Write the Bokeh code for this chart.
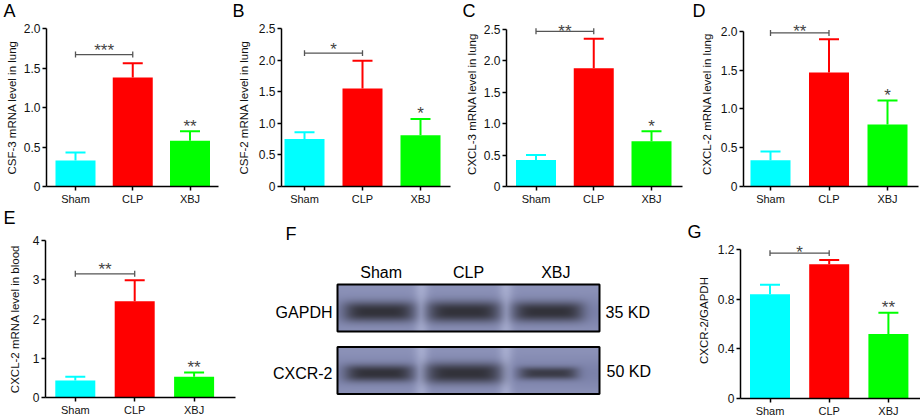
import numpy as np
from bokeh.plotting import figure
from bokeh.layouts import row, column
from bokeh.models import Range1d, FixedTicker
from bokeh.core.properties import value
from bokeh.embed import file_html
from bokeh.resources import INLINE

FONT = "Liberation Sans"

# ---------------- data ----------------
categories = ["Sham", "CLP", "XBJ"]
bar_colors = ["#00FFFF", "#FF0000", "#00FF00"]

a_mean = [0.33, 1.38, 0.58]
a_sem = [0.10, 0.18, 0.12]
a_ticks = [0, 0.5, 1.0, 1.5, 2.0]
a_tick_labels = ["0", "0.5", "1.0", "1.5", "2.0"]
a_ylabel = "CSF-3 mRNA level in lung"
a_stars = ["***", "**"]
a_bracket = 1.67

b_mean = [0.75, 1.55, 0.81]
b_sem = [0.11, 0.44, 0.26]
b_ticks = [0, 0.5, 1.0, 1.5, 2.0, 2.5]
b_tick_labels = ["0", "0.5", "1.0", "1.5", "2.0", "2.5"]
b_ylabel = "CSF-2 mRNA level in lung"
b_stars = ["*", "*"]
b_bracket = 2.11

c_mean = [0.42, 1.88, 0.72]
c_sem = [0.08, 0.47, 0.16]
c_ticks = [0, 0.5, 1.0, 1.5, 2.0, 2.5]
c_tick_labels = ["0", "0.5", "1.0", "1.5", "2.0", "2.5"]
c_ylabel = "CXCL-3 mRNA level in lung"
c_stars = ["**", "*"]
c_bracket = 2.47

d_mean = [0.34, 1.47, 0.80]
d_sem = [0.11, 0.43, 0.31]
d_ticks = [0, 0.5, 1.0, 1.5, 2.0]
d_tick_labels = ["0", "0.5", "1.0", "1.5", "2.0"]
d_ylabel = "CXCL-2 mRNA level in lung"
d_stars = ["**", "*"]
d_bracket = 1.98

e_mean = [0.43, 2.45, 0.53]
e_sem = [0.10, 0.54, 0.11]
e_ticks = [0, 1, 2, 3, 4]
e_tick_labels = ["0", "1", "2", "3", "4"]
e_ylabel = "CXCL-2 mRNA level in blood"
e_stars = ["**", "**"]
e_bracket = 3.15

g_mean = [0.84, 1.08, 0.52]
g_sem = [0.075, 0.035, 0.17]
g_ticks = [0, 0.4, 0.8, 1.2]
g_tick_labels = ["0", "0.4", "0.8", "1.2"]
g_ylabel = "CXCR-2/GAPDH"
g_stars = ["*", "**"]
g_bracket = 1.17

blot_rows = ["GAPDH", "CXCR-2"]
blot_sizes = ["35 KD", "50 KD"]
gapdh_band = [1.0, 1.05, 1.0]      # relative band density
cxcr2_band = [0.95, 1.15, 0.72]

panel_letters = ["A", "B", "C", "D", "E", "F", "G"]

# ---------------- layout (page px) ----------------
STRIP_H = 21
TOP_H = 207
BOT_H = 212
E_TOP = 232
G_TOP = 242

# fig=(x0, y0, w, h); frame=(left, top, right, bottom); ytop = pixel of the top tick
geoms = {
    "A": dict(fig=(0, STRIP_H, 230, TOP_H - STRIP_H), frame=(46, 28, 218, 188), ytop=28, c0=75.0, s=57.25, lstand=3),
    "B": dict(fig=(230, STRIP_H, 230, TOP_H - STRIP_H), frame=(281, 28, 450, 188), ytop=28, c0=304.0, s=58.0, lstand=6),
    "C": dict(fig=(460, STRIP_H, 230, TOP_H - STRIP_H), frame=(506, STRIP_H, 682, 188), ytop=29, c0=535.5, s=57.75, lstand=3),
    "D": dict(fig=(690, STRIP_H, 230, TOP_H - STRIP_H), frame=(743, STRIP_H, 918, 188), ytop=31, c0=770.0, s=58.5, lstand=5),
    "E": dict(fig=(0, E_TOP, 240, 419 - E_TOP), frame=(45, 240, 235, 397), ytop=240, c0=74.8, s=59.4, lstand=9),
    "G": dict(fig=(686, G_TOP, 234, 419 - G_TOP), frame=(740, G_TOP, 920, 400), ytop=249, c0=769.5, s=59.2, lstand=5),
}
letter_pos = {"A": (3, 4), "B": (232, 4), "C": (462, 4), "D": (692, 4),
              "E": (3, 211), "F": (285, 227), "G": (687, 225)}   # cap top-left
LETTER_PX = 18
CAP = 0.716 * LETTER_PX
STAR_PX = 17


def letter_text(p, letters):
    p.text(x=[letter_pos[l][0] for l in letters], y=[-(letter_pos[l][1] + CAP / 2) for l in letters],
           text=letters, text_align="left", text_baseline="middle",
           text_font=value(FONT), text_font_size=f"{LETTER_PX}px", text_color="black")


def strip(x0, y0, w, h, letters):
    p = figure(width=w, height=h, x_range=Range1d(x0, x0 + w), y_range=Range1d(-(y0 + h), -y0),
               output_backend="svg", toolbar_location=None, min_border=0,
               x_axis_location=None, y_axis_location=None)
    p.outline_line_color = None
    p.grid.visible = False
    letter_text(p, letters)
    return p


def bar_panel(mean, sem, ticks, tick_labels, ylabel, stars, bracket, g):
    x0, y0, w, h = g["fig"]
    fl, ft, fr, fb = g["frame"]
    c0, s = g["c0"], g["s"]
    ymax = ticks[-1]
    ux = 1.0 / s
    uy = ymax / float(fb - g["ytop"])
    xr = Range1d((fl - c0) / s, (fr - c0) / s)
    yr = Range1d(0, ymax + (g["ytop"] - ft) * uy)
    p = figure(width=w, height=h, x_range=xr, y_range=yr, output_backend="svg",
               toolbar_location=None, min_border_left=fl - x0, min_border_right=x0 + w - fr,
               min_border_top=ft - y0, min_border_bottom=y0 + h - fb)
    p.outline_line_color = None
    p.grid.visible = False
    p.background_fill_color = "white"
    p.border_fill_color = "white"

    idx = list(range(len(categories)))
    top = [m + e for m, e in zip(mean, sem)]
    p.vbar(x=idx, top=mean, bottom=0, width=40 * ux, fill_color=bar_colors, line_color=None)
    p.segment(x0=idx, y0=mean, x1=idx, y1=top, line_color=bar_colors, line_width=2)
    p.segment(x0=[i - 10 * ux for i in idx], y0=top, x1=[i + 10 * ux for i in idx], y1=top,
              line_color=bar_colors, line_width=2)

    grey = "#555555"
    p.segment(x0=[0], y0=[bracket], x1=[1], y1=[bracket], line_color=grey, line_width=1.3)
    p.segment(x0=[0, 1], y0=[bracket - 3 * uy] * 2, x1=[0, 1], y1=[bracket + 3 * uy] * 2,
              line_color=grey, line_width=1.3)
    # keep the whole text box of the stars inside the plot frame
    ymax_anchor = yr.end - (0.56 * STAR_PX + 0.6) * uy
    star_y = [min(bracket + 4 * uy, ymax_anchor), min(top[2] + 5 * uy, ymax_anchor)]
    p.text(x=[0.5, 2], y=star_y, text=stars,
           text_align="center", text_baseline="middle", text_font=value(FONT),
           text_font_size=f"{STAR_PX}px", text_color="#444444")

    ax = p.xaxis[0]
    ax.ticker = FixedTicker(ticks=idx)
    ax.major_label_overrides = {i: c for i, c in enumerate(categories)}
    ay = p.yaxis[0]
    ay.ticker = FixedTicker(ticks=ticks)
    ay.major_label_overrides = {t: l for t, l in zip(ticks, tick_labels)}
    ay.bounds = (0, ymax)
    for a in (ax, ay):
        a.axis_line_width = 1.5
        a.axis_line_color = "black"
        a.major_tick_line_width = 1.5
        a.major_tick_line_color = "black"
        a.major_tick_out = 4
        a.major_tick_in = 0
        a.minor_tick_line_color = None
        a.major_label_text_font = FONT
        a.major_label_text_color = "#111111"
        a.major_label_standoff = 2
    ax.major_label_text_font_size = "11px"
    ay.major_label_text_font_size = "12px"
    ay.axis_label = ylabel
    ay.axis_label_text_font = FONT
    ay.axis_label_text_font_size = "11.5px"
    ay.axis_label_text_font_style = "normal"
    ay.axis_label_text_color = "#111111"
    ay.axis_label_standoff = g["lstand"]
    return p


# ---------------- western blot panel F ----------------
BL_L, BL_R = 337.0, 599.0
BOX_G = (284.0, 331.0, 311.5, 9.5)     # top, bottom, band centre, band half-height
BOX_C = (346.5, 393.5, 373.0, 8.5)
BAND_X0, BAND_PITCH = 378.5, 84.5


def blot_rgba(density, top, bot, rc, hh0):
    W = int(round((BL_R - BL_L) * 2))
    H = int(round((bot - top) * 2))
    xs = BL_L + (np.arange(W) + 0.5) / 2.0
    ys = top + (np.arange(H) + 0.5) / 2.0
    X, Y = np.meshgrid(xs, ys)
    base = np.array([142.0, 148.0, 186.0])
    centers = [BAND_X0 + i * BAND_PITCH for i in range(len(density))]
    streak = np.zeros_like(X)
    for i in range(len(centers) - 1):
        xm = 0.5 * (centers[i] + centers[i + 1])
        streak += np.exp(-((X - xm) / 7.0) ** 2)
    halo = np.exp(-((Y - rc) / 16.0) ** 2)
    rgb = (base[None, None, :] + streak[..., None] * np.array([26.0, 26.0, 22.0])
           - halo[..., None] * np.array([18.0, 18.0, 16.0]))
    a = np.zeros_like(X)
    for c, d in zip(centers, density):
        hw = 35.0 * d ** 0.5
        hh = hh0 * d
        r = np.sqrt(np.abs((X - c) / hw) ** 6 + np.abs((Y - rc) / hh) ** 3)
        prof = np.exp(-r ** 1.6)
        a = np.maximum(a, min(1.0, 0.45 + 0.6 * d) * prof)
    band = np.array([50.0, 50.0, 58.0])
    rgb = rgb * (1 - a[..., None]) + band * a[..., None]
    rgb = np.clip(rgb, 0, 255).astype(np.uint8)
    img = np.empty((H, W), dtype=np.uint32)
    view = img.view(dtype=np.uint8).reshape((H, W, 4))
    view[..., :3] = rgb
    view[..., 3] = 255
    return np.ascontiguousarray(np.flipud(img))


def blot_panel():
    x0, y0, w, h = 240, TOP_H, 446, BOT_H
    p = figure(width=w, height=h, x_range=Range1d(x0, x0 + w), y_range=Range1d(-(y0 + h), -y0),
               output_backend="svg", toolbar_location=None, min_border=0,
               x_axis_location=None, y_axis_location=None)
    p.outline_line_color = None
    p.grid.visible = False
    for dens, (bt, bb, rc, hh) in ((gapdh_band, BOX_G), (cxcr2_band, BOX_C)):
        p.image_rgba(image=[blot_rgba(dens, bt, bb, rc, hh)], x=BL_L, y=-bb, dw=BL_R - BL_L, dh=bb - bt)
        p.quad(left=[BL_L], right=[BL_R], top=[-bt], bottom=[-bb], fill_color=None,
               line_color="black", line_width=2)
    lane_w = (BL_R - BL_L) / len(categories)
    p.text(x=[BL_L + (i + 0.5) * lane_w for i in range(len(categories))], y=[-271.5] * len(categories),
           text=categories, text_align="center", text_baseline="middle",
           text_font=value(FONT), text_font_size="16px", text_color="black")
    p.text(x=[BL_L - 5] * 2, y=[-BOX_G[2], -BOX_C[2]], text=blot_rows, text_align="right",
           text_baseline="middle", text_font=value(FONT), text_font_size="16px", text_color="black")
    p.text(x=[BL_R + 6, BL_R + 7], y=[-BOX_G[2], -(BOX_C[2] - 2)], text=blot_sizes, text_align="left",
           text_baseline="middle", text_font=value(FONT), text_font_size="16px", text_color="black")
    letter_text(p, ["F"])
    return p


pA = bar_panel(a_mean, a_sem, a_ticks, a_tick_labels, a_ylabel, a_stars, a_bracket, geoms["A"])
pB = bar_panel(b_mean, b_sem, b_ticks, b_tick_labels, b_ylabel, b_stars, b_bracket, geoms["B"])
pC = bar_panel(c_mean, c_sem, c_ticks, c_tick_labels, c_ylabel, c_stars, c_bracket, geoms["C"])
pD = bar_panel(d_mean, d_sem, d_ticks, d_tick_labels, d_ylabel, d_stars, d_bracket, geoms["D"])
pE = bar_panel(e_mean, e_sem, e_ticks, e_tick_labels, e_ylabel, e_stars, e_bracket, geoms["E"])
pF = blot_panel()
pG = bar_panel(g_mean, g_sem, g_ticks, g_tick_labels, g_ylabel, g_stars, g_bracket, geoms["G"])

# each plot is wrapped in its own container so Bokeh does not align frame borders between them
top_strip = strip(0, 0, 920, STRIP_H, panel_letters[:4])
top_row = row(column(pA), column(pB), column(pC), column(pD))
e_col = column(row(strip(0, TOP_H, 240, E_TOP - TOP_H, ["E"])), row(pE))
g_col = column(row(strip(686, TOP_H, 234, G_TOP - TOP_H, ["G"])), row(pG))

layout = column(row(top_strip), top_row, row(e_col, column(pF), g_col))
open("out.html", "w").write(file_html(layout, INLINE))
